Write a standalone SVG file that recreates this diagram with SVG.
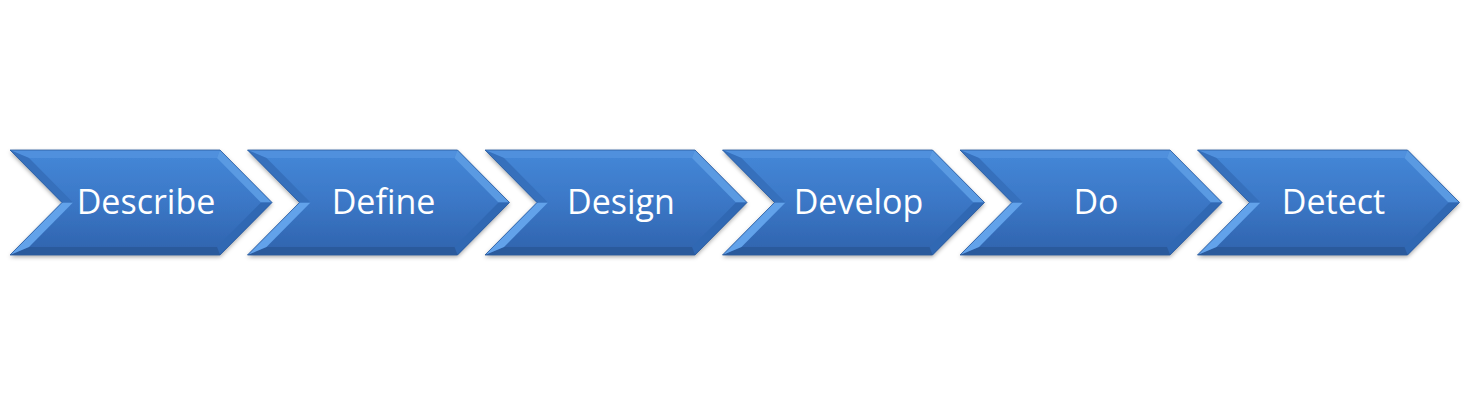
<svg xmlns="http://www.w3.org/2000/svg" width="1470" height="404" viewBox="0 0 1470 404">
<defs>
<linearGradient id="face" x1="0" y1="0" x2="0" y2="1">
<stop offset="0" stop-color="#4588d8"/>
<stop offset="0.5" stop-color="#3b77c6"/>
<stop offset="1" stop-color="#2f63ad"/>
</linearGradient>
<filter id="sh" x="-5%" y="-10%" width="110%" height="130%">
<feDropShadow dx="0" dy="2" stdDeviation="2" flood-color="#000" flood-opacity="0.35"/>
</filter>
<g id="chev">
<path d="M0,0 L210,0 L262,52.5 L210,105 L0,105 L52,52.5 Z" fill="url(#face)" filter="url(#sh)"/>
<path d="M0,0 L210,0 L207,8 L19,8 Z" fill="#5292de" opacity="0.8"/>
<path d="M210,0 L262,52.5 L251,52.5 L207,8 Z" fill="#5a9ae2"/>
<path d="M262,52.5 L210,105 L207,97 L251,52.5 Z" fill="#3068b3"/>
<path d="M210,105 L0,105 L19,97 L207,97 Z" fill="#2a5a9c"/>
<path d="M0,105 L52,52.5 L63,52.5 L19,97 Z" fill="#62a2ea"/>
<path d="M0,0 L19,8 L63,52.5 L52,52.5 Z" fill="#3670bc"/>
<path d="M0,0 L210,0 L262,52.5 L210,105 L0,105 L52,52.5 Z" fill="none" stroke="#2a5a9e" stroke-width="0.8"/>
</g>
</defs>
<style>
text{font-family:"Open Sans","Liberation Sans",sans-serif;font-size:34px;fill:#ffffff;text-anchor:middle}
</style>
<g id="n1"><use href="#chev" x="10" y="150"/><text x="146" y="214">Describe</text></g>
<g id="n2"><use href="#chev" x="247.5" y="150"/><text x="383.5" y="214">Define</text></g>
<g id="n3"><use href="#chev" x="485" y="150"/><text x="621" y="214">Design</text></g>
<g id="n4"><use href="#chev" x="722.5" y="150"/><text x="858.5" y="214">Develop</text></g>
<g id="n5"><use href="#chev" x="960" y="150"/><text x="1096" y="214">Do</text></g>
<g id="n6"><use href="#chev" x="1197.5" y="150"/><text x="1333.5" y="214">Detect</text></g>
<g id="connectors"></g>
</svg>
